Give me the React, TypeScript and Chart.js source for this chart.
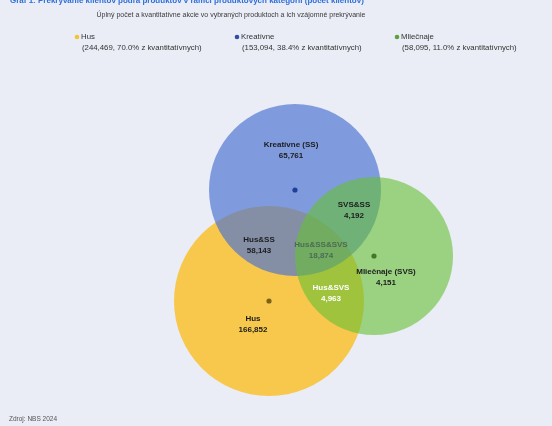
import { useEffect, useRef } from "react";
import { Chart, registerables } from "chart.js";

Chart.register(...registerables);

// ---- texts ----
const chartTitle = "Graf 1: Prekrývanie klientov podľa produktov v rámci produktových kategórií (počet klientov)";
const chartSubtitle = "Úplný počet a kvantitatívne akcie vo vybraných produktoch a ich vzájomné prekrývanie";
const sourceNote = "Zdroj: NBS 2024";

// ---- sets (legend) ----
const setNames = ["Hus", "Kreatívne", "Mliečnaje"];
const setTotals = ["244,469", "153,094", "58,095"];
const setShares = ["70.0%", "38.4%", "11.0%"];
const setShareSuffix = "z kvantitatívnych";

// ---- Venn regions ----
const regionNames = ["Kreatívne (SS)", "SVS&SS", "Hus&SS", "Hus&SS&SVS", "Mliečnaje (SVS)", "Hus&SVS", "Hus"];
const regionValues = ["65,761", "4,192", "58,143", "18,874", "4,151", "4,963", "166,852"];

// ---- layout of the diagram (data units of the hidden scales) ----
const circleX = [269, 295, 374];
const circleY = [301, 190, 256];
const circleR = [95, 86, 79];
const labelX = [291, 354, 259, 321, 386, 331, 253];
const labelY = [145, 205, 240, 245, 272, 288, 319];

// ---- styles ----
const BG = "#eaedf6";
const fillColors = ["rgba(247,196,61,0.92)", "rgba(76,116,210,0.68)", "rgba(100,192,52,0.6)"];
const dotColors = ["#7a6414", "#1f3f9a", "#3f7a22"];
const legendDotColors = ["#f2c530", "#2d4fa8", "#5aa33a"];
const labelColors = ["#1c1c1c", "#1c1c1c", "#1c1c1c", "#4d6b55", "#1c1c1c", "#ffffff", "#1c1c1c"];
const FONT = "'Liberation Sans', Arial, sans-serif";

export default function App() {
  const ref = useRef<HTMLCanvasElement | null>(null);

  useEffect(() => {
    if (!ref.current) return;

    const textPlugin = {
      id: "textPlugin",
      beforeDraw(chart: any) {
        const c = chart.ctx;
        c.save();
        c.fillStyle = BG;
        c.fillRect(0, 0, chart.width, chart.height);
        c.restore();
      },
      afterDraw(chart: any) {
        const c = chart.ctx;
        const xs = chart.scales.x;
        const ys = chart.scales.y;
        c.save();
        c.textBaseline = "middle";
        // heading
        c.fillStyle = "#2f6fd8";
        c.font = `bold 8px ${FONT}`;
        c.textAlign = "left";
        c.fillText(chartTitle, 10, 1);
        // subtitle
        c.fillStyle = "#3a3a3a";
        c.font = `7px ${FONT}`;
        c.textAlign = "center";
        c.fillText(chartSubtitle, 231, 15);
        // legend
        const legX = [77, 237, 397];
        setNames.forEach((n, i) => {
          c.beginPath();
          c.arc(legX[i], 37, 2.3, 0, Math.PI * 2);
          c.fillStyle = legendDotColors[i];
          c.fill();
          c.fillStyle = "#333";
          c.font = `7.8px ${FONT}`;
          c.textAlign = "left";
          c.fillText(n, legX[i] + 4, 37);
          c.fillText(`(${setTotals[i]}, ${setShares[i]} ${setShareSuffix})`, legX[i] + 5, 48);
        });
        // region labels
        regionNames.forEach((n, i) => {
          const px = xs.getPixelForValue(labelX[i]);
          const py = ys.getPixelForValue(labelY[i]);
          c.fillStyle = labelColors[i];
          c.font = `bold 8px ${FONT}`;
          c.textAlign = "center";
          c.fillText(n, px, py);
          c.fillText(regionValues[i], px, py + 11);
        });
        // source
        c.fillStyle = "#555";
        c.font = `6.5px ${FONT}`;
        c.textAlign = "left";
        c.fillText(sourceNote, 9, 419);
        c.restore();
      },
    };

    const circleSets = setNames.map((name, i) => ({
      type: "bubble" as const,
      label: name,
      data: [{ x: circleX[i], y: circleY[i], r: circleR[i] }],
      backgroundColor: fillColors[i],
      borderWidth: 0,
      order: 3 - i,
    }));

    const dots = {
      type: "scatter" as const,
      label: "centers",
      data: setNames.map((_, i) => ({ x: circleX[i], y: circleY[i] })),
      backgroundColor: dotColors,
      borderWidth: 0,
      pointRadius: 2.6,
      order: -1,
    };

    const chart = new Chart(ref.current, {
      type: "bubble",
      data: { datasets: [...circleSets, dots] as any },
      options: {
        animation: false,
        responsive: false,
        events: [],
        layout: { padding: 0, autoPadding: false },
        scales: {
          x: { type: "linear", min: 0, max: 552, display: false },
          y: { type: "linear", min: 0, max: 426, reverse: true, display: false },
        },
        plugins: {
          legend: { display: false },
          title: { display: false },
          tooltip: { enabled: false },
        },
      },
      plugins: [textPlugin],
    });
    return () => chart.destroy();
  }, []);

  return (
    <div style={{ position: "fixed", left: 0, top: 0, width: 552, height: 426, background: BG }}>
      <canvas ref={ref} width={552} height={426} style={{ display: "block", width: 552, height: 426 }} />
    </div>
  );
}
